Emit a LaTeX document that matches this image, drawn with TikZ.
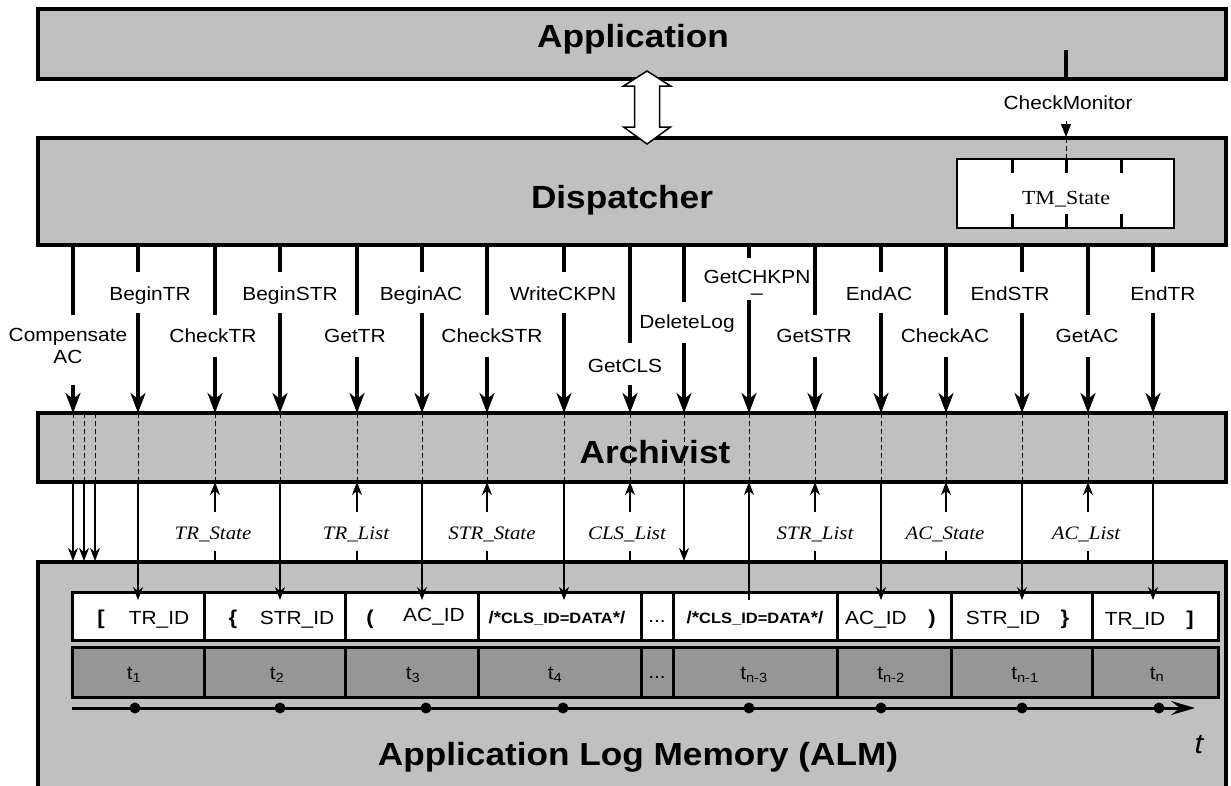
\documentclass[tikz,border=0pt]{standalone}
\usepackage{fontspec}
\setmainfont{Liberation Sans}[FakeStretch=1.1]
\newfontfamily\tms{Liberation Serif}[FakeStretch=1.1]
\usetikzlibrary{arrows.meta}
\definecolor{boxgray}{HTML}{C0C0C0}
\definecolor{rowgray}{HTML}{969696}
\begin{document}
\begin{tikzpicture}[x=1pt,y=-1pt,
  layer/.style={draw=black, line width=3.5pt, fill=boxgray, inner sep=0pt},
  title/.style={font=\fontsize{32}{36}\selectfont\bfseries, inner sep=0pt, anchor=base},
  lbl/.style={font=\fontsize{19}{22}\selectfont, inner sep=0pt},
  ret/.style={font=\tms\itshape\fontsize{19}{22}\selectfont, inner sep=0pt, anchor=base},
  call/.style={line width=3.2pt},
  callarr/.style={line width=3.2pt, -{Stealth[length=20pt,width=15pt,inset=6pt]}},
  thinln/.style={line width=1.1pt},
  thinarr/.style={line width=1.1pt, -{Stealth[length=13pt,width=10pt,inset=4pt]}},
  dsh/.style={line width=0.8pt, dash pattern=on 5pt off 3pt},
  cellbox/.style={draw, line width=3pt, fill=white},
  tcellbox/.style={draw, line width=3pt, fill=rowgray},
  celltxt/.style={font=\fontsize{19}{22}\selectfont, inner sep=0pt, anchor=base},
  brk/.style={font=\fontsize{20}{22}\selectfont\bfseries, inner sep=0pt, anchor=base},
  cls/.style={font=\bfseries\fontsize{17}{20}\selectfont, inner sep=0pt, anchor=base},
]
\useasboundingbox (0,0) rectangle (1231,785);
\fill[white] (0,0) rectangle (1231,785);

% layers
\node[layer, minimum width=1188pt, minimum height=70pt] (App) at (632,44) {};
\node[layer, minimum width=1188pt, minimum height=107pt] (Disp) at (632,191.5) {};
\node[layer, minimum width=1188pt, minimum height=69pt] (Arch) at (632,447.5) {};
\node[layer, minimum width=1188pt, minimum height=238pt] (ALM) at (632,681) {};

% TM_State box
\node[draw, line width=2.7pt, fill=white, minimum width=217pt, minimum height=69pt, inner sep=0pt] (TM) at (1065.5,193.5) {};
\foreach \x in {1012,1066,1121}{
  \draw[line width=3pt] (\x,159) -- (\x,173);
  \draw[line width=3pt] (\x,214) -- (\x,228);
}
\node[font=\tms\fontsize{20}{22}\selectfont, inner sep=0pt, anchor=base] (TMt) at (1066,204) {TM\_State};

% CheckMonitor
\coordinate (cm0) at (1066,50);
\coordinate (cm1) at (1066,80);
\draw[call] (cm0) -- (cm1);
\node[lbl, anchor=base] (lCM) at (1068,109) {CheckMonitor};
\draw[line width=1pt, -{Stealth[length=13pt,width=10pt,inset=0pt]}] (1066,121) -- (1066,137);
\draw[dsh] (1066,138) -- (1066,159);

% double hollow arrow
\draw[line width=1.5pt, fill=white] (647,71) -- (670.5,86) -- (659.5,86) -- (659.5,127) -- (670.5,127)
  -- (647,144) -- (623.5,127) -- (634.5,127) -- (634.5,86) -- (623.5,86) -- cycle;

% log rows
\foreach \a/\b in {72/204,204/345,345/478,478/641,641/673,673/837,837/951,951/1092,1092/1218}{
  \draw[cellbox] (\a,592) rectangle (\b,640);
  \draw[tcellbox] (\a,647) rectangle (\b,697);
}

% dispatcher calls
\foreach \x/\lx/\lb/\gt/\gb/\t in {
138/150/300/272/313/BeginTR,
215/213/342/315/357/CheckTR,
280/290/300/272/313/BeginSTR,
357/355/342/315/357/GetTR,
422/421/300/272/313/BeginAC,
487/492/342/315/357/CheckSTR,
564/563/300/272/313/WriteCKPN,
630/625/372/343/385/GetCLS,
684/687/328/302/343/DeleteLog,
815/814/342/315/357/GetSTR,
881/879/300/272/313/EndAC,
946/945/342/315/357/CheckAC,
1022/1010/300/272/313/EndSTR,
1088/1087/342/315/357/GetAC,
1153/1163/300/272/313/EndTR}{
  \node[lbl, anchor=base] (l\t) at (\lx,\lb) {\t};
  \draw[call] (\x,245) -- (\x,\gt);
  \draw[callarr] (\x,\gb) -- (\x,413);
  \draw[dsh] (\x,413) -- (\x,482);
}
% GetCHKPN
\node[lbl, align=center, anchor=north] (lGetCHKPN) at (757,270) {GetCHKPN\\[-14pt]\_};
\draw[call] (749,245) -- (749,258);
\draw[callarr] (749,300) -- (749,413);
\draw[dsh] (749,413) -- (749,482);
% Compensate AC
\node[lbl, align=center] (lComp) at (68,346) {Compensate\\AC};
\draw[call] (73,245) -- (73,315);
\draw[callarr] (73,385) -- (73,413);
\foreach \x in {73,84,95}{
  \draw[dsh] (\x,413) -- (\x,482);
  \draw[thinarr] (\x,482) -- (\x,561);
}

% archivist to log
\foreach \x in {138,280,422,564,881,1022,1153}{
  \draw[thinarr] (\x,482) -- (\x,600);
}
\draw[thinarr] (684,482) -- (684,561);
\draw[thinarr] (749,600) -- (749,482);

% returned values
\foreach \x/\lx/\t [count=\i] in {215/213/TR\_State, 357/356/TR\_List, 487/492/STR\_State, 630/627/CLS\_List,
  815/815/STR\_List, 946/945/AC\_State, 1088/1086/AC\_List}{
  \node[ret] (r\i) at (\lx,539) {\t};
  \draw[thinln] (\x,562) -- (\x,551);
  \draw[thinarr] (\x,512) -- (\x,482);
}

% titles
\node[title] (tApp) at (633,47) {Application};
\node[title] (tDisp) at (622,208) {Dispatcher};
\node[title] (tArch) at (655,463) {Archivist};
\node[title] (tALM) at (638,765) {Application Log Memory (ALM)};

% log cell texts
\node[brk] at (101,624) {[};
\node[celltxt] at (159,624) {TR\_ID};
\node[brk] at (233,624) {\{};
\node[celltxt] at (297,624) {STR\_ID};
\node[brk] at (370,624) {(};
\node[celltxt] at (434,621) {AC\_ID};
\node[cls] at (557,623) {/*{\fontsize{15}{16}\selectfont CLS\_ID=DATA}*/};
\node[celltxt] at (657,622) {...};
\node[cls] at (755,623) {/*{\fontsize{15}{16}\selectfont CLS\_ID=DATA}*/};
\node[celltxt] at (876,624) {AC\_ID};
\node[brk] at (932,624) {)};
\node[celltxt] at (1003,624) {STR\_ID};
\node[brk] at (1065,624) {\}};
\node[celltxt] at (1135,625) {TR\_ID};
\node[brk] at (1190,625) {]};

% time cells
\foreach \x/\s in {134/1,277/2,413/3,555/4,754/n-3,891/n-2,1025/n-1,1157/n}{
  \node[celltxt] at (\x,679) {t\textsubscript{\s}};
}
\node[celltxt] at (657,678) {...};

% time axis
\coordinate (ax0) at (72,708);
\coordinate (ax1) at (1195,708);
\draw[line width=3pt, -{Stealth[length=24pt,width=14pt,inset=9pt]}] (ax0) -- (ax1);
\foreach \x in {135,280,426,563,749,881,1022,1159}{
  \fill (\x,708) circle (5.5pt);
}
\node[font=\fontsize{28}{32}\selectfont\itshape, inner sep=0pt, anchor=base] (tt) at (1199,753) {t};
\end{tikzpicture}
\end{document}
